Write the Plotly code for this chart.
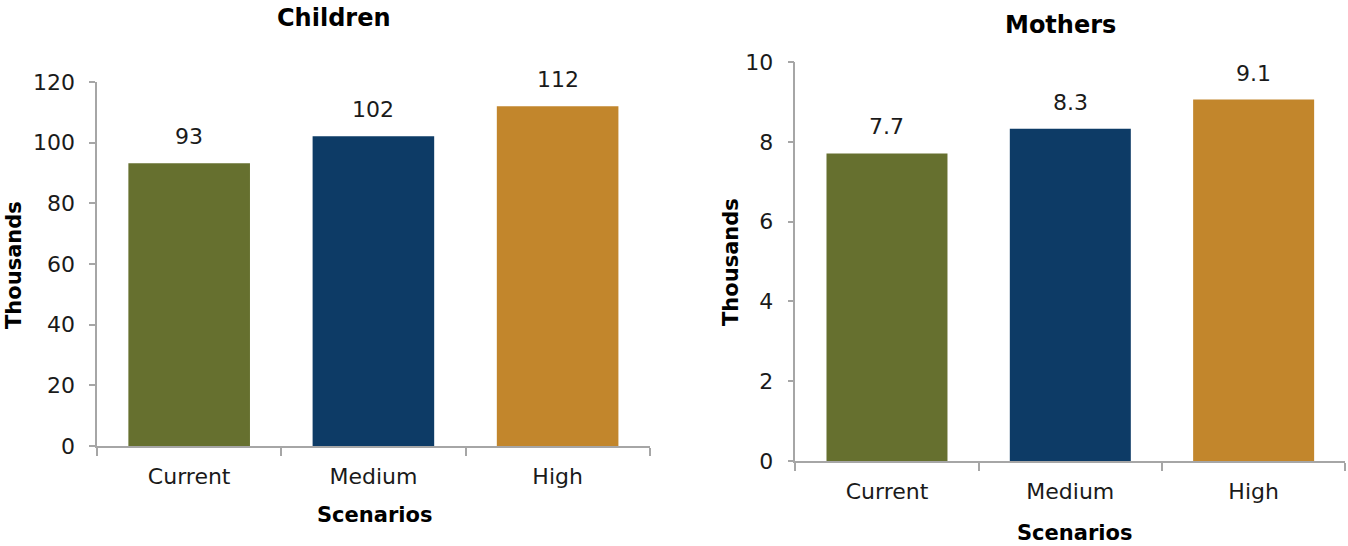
import plotly.graph_objects as go

categories = ["Current", "Medium", "High"]
children = [93.2, 102.1, 112.0]
mothers = [7.71, 8.33, 9.06]
colors = ["#66702F", "#0D3B66", "#C2862C"]
children_ticks = [0, 20, 40, 60, 80, 100, 120]
mothers_ticks = [0, 2, 4, 6, 8, 10]

FONT = "DejaVu Sans"
AX = "#a6a6a6"
TXT = "#1a1a1a"

fig = go.Figure()
fig.add_trace(go.Bar(x=categories, y=children, marker=dict(color=colors, line=dict(width=0)),
                     width=0.66, xaxis="x", yaxis="y", showlegend=False))
fig.add_trace(go.Bar(x=categories, y=mothers, marker=dict(color=colors, line=dict(width=0)),
                     width=0.66, xaxis="x2", yaxis="y2", showlegend=False))

for c, v in zip(categories, children):
    fig.add_annotation(x=c, y=v, xref="x", yref="y", text=f"{v:.0f}", showarrow=False,
                       yanchor="bottom", yshift=12, font=dict(size=22, color=TXT, family=FONT))
for c, v in zip(categories, mothers):
    fig.add_annotation(x=c, y=v, xref="x2", yref="y2", text=f"{v:.1f}", showarrow=False,
                       yanchor="bottom", yshift=12, font=dict(size=22, color=TXT, family=FONT))

common_x = dict(type="category", showline=True, linecolor=AX, linewidth=1.5, ticks="outside",
                tickson="boundaries", ticklen=8, tickcolor=AX, tickwidth=1.5, ticklabelstandoff=10,
                tickfont=dict(size=22, color=TXT, family=FONT), showgrid=False, zeroline=False,
                range=[-0.5, 2.5], automargin=False)
common_y = dict(showline=True, linecolor=AX, linewidth=1.5, ticks="outside", ticklen=6,
                tickcolor=AX, tickwidth=1.5, ticklabelstandoff=10,
                tickfont=dict(size=22, color=TXT, family=FONT),
                showgrid=False, zeroline=False, automargin=False)

fig.update_layout(
    width=1348, height=546, margin=dict(l=0, r=0, t=0, b=0, pad=0, autoexpand=False),
    plot_bgcolor="white", paper_bgcolor="white", bargap=0.34,
    xaxis=dict(domain=[0.072, 0.482], anchor="y", **common_x),
    yaxis=dict(domain=[0.183, 0.850], anchor="x", range=[0, 120], tickvals=children_ticks, **common_y),
    xaxis2=dict(domain=[0.590, 0.998], anchor="y2", **common_x),
    yaxis2=dict(domain=[0.1557, 0.8864], anchor="x2", range=[0, 10], tickvals=mothers_ticks, **common_y),
)

titles = [
    dict(text="<b>Children</b>", x=334 / 1348, y=1 - 18 / 546, size=24),
    dict(text="<b>Mothers</b>", x=1060 / 1348, y=1 - 25 / 546, size=24),
    dict(text="<b>Scenarios</b>", x=375 / 1348, y=1 - 515 / 546, size=21),
    dict(text="<b>Scenarios</b>", x=1074 / 1348, y=1 - 533 / 546, size=21),
]
for a in titles:
    fig.add_annotation(x=a["x"], y=a["y"], xref="paper", yref="paper", text=a["text"], showarrow=False,
                       xanchor="center", yanchor="middle", font=dict(size=a["size"], color="black", family=FONT))
for x, y in [(14, 265), (731, 262)]:
    fig.add_annotation(x=x / 1348, y=1 - y / 546, xref="paper", yref="paper", text="<b>Thousands</b>",
                       showarrow=False, textangle=-90, xanchor="center", yanchor="middle",
                       font=dict(size=21, color="black", family=FONT))

fig.write_html("out.html")
